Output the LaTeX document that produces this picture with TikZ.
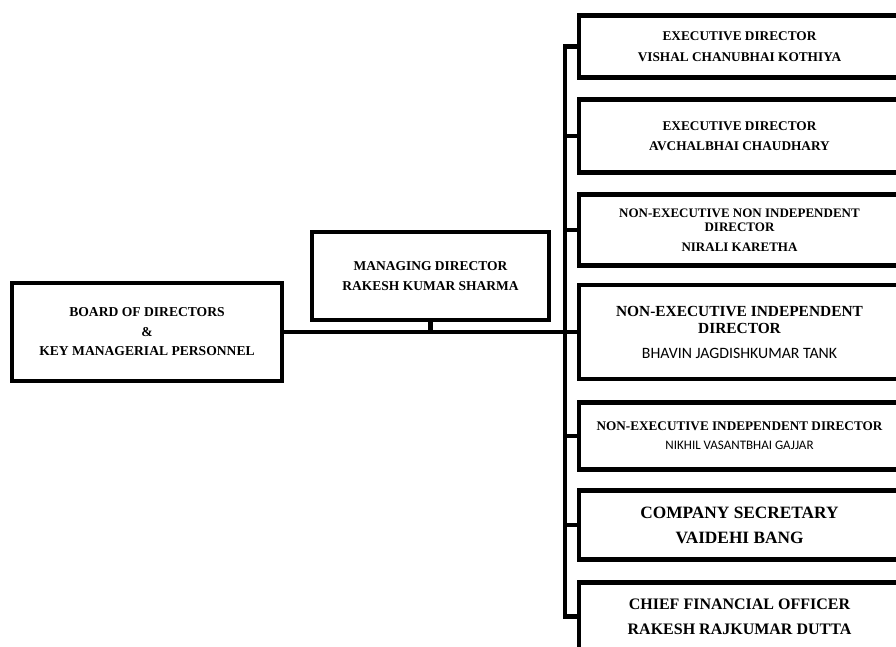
\documentclass[tikz,border=0pt]{standalone}
\usepackage{fontspec}
\setmainfont{Liberation Serif}
\newfontfamily\namefont{Carlito}

\tikzset{
    orgbox/.style={draw, line width=4.5pt, align=center, inner sep=0pt},
    sidebox/.style={orgbox, minimum width=321pt},
    link/.style={line width=4.5pt}
}

\begin{document}
\begin{tikzpicture}[x=1pt, y=-1pt]
            \useasboundingbox (0,0) rectangle (896,646);
            \clip (0,0) rectangle (896,646);

            % Board and managing director
            \node[orgbox, minimum width=270pt, minimum height=98pt, font=\bfseries\fontsize{13.6}{19.5}\selectfont] (board) at (147,332)
                {BOARD OF DIRECTORS\\\&\\KEY MANAGERIAL PERSONNEL};
            \node[orgbox, minimum width=237pt, minimum height=88pt, font=\bfseries\fontsize{13.5}{19.5}\selectfont] (md) at (430.5,276)
                {MANAGING DIRECTOR\\RAKESH KUMAR SHARMA};

            % Directors and officers on the right
            \node[sidebox, minimum height=62pt, font=\bfseries\fontsize{13.3}{21}\selectfont] (b1) at (739.5,46.5)
                {EXECUTIVE DIRECTOR\\VISHAL CHANUBHAI KOTHIYA};
            \node[sidebox, minimum height=73pt, font=\bfseries\fontsize{13.3}{20}\selectfont] (b2) at (739.5,136)
                {EXECUTIVE DIRECTOR\\AVCHALBHAI CHAUDHARY};
            \node[sidebox, minimum height=71pt, font=\bfseries\fontsize{13}{14}\selectfont] (b3) at (739.5,230)
                {NON-EXECUTIVE NON INDEPENDENT\\DIRECTOR\\[6pt]NIRALI KARETHA};
            \node[sidebox, minimum height=94pt, font=\bfseries\fontsize{15.4}{17}\selectfont] (b4) at (739.5,332)
                {NON-EXECUTIVE INDEPENDENT\\DIRECTOR\\[8pt]{\namefont\mdseries\fontsize{15.8}{17}\selectfont BHAVIN JAGDISHKUMAR TANK}};
            \node[sidebox, minimum height=67pt, font=\bfseries\fontsize{13.2}{19}\selectfont] (b5) at (739.5,436)
                {NON-EXECUTIVE INDEPENDENT DIRECTOR\\{\namefont\mdseries\fontsize{13}{19}\selectfont NIKHIL VASANTBHAI GAJJAR}};
            \node[sidebox, minimum height=69pt, font=\bfseries\fontsize{17.3}{25}\selectfont] (b6) at (739.5,525)
                {COMPANY SECRETARY\\VAIDEHI BANG};
            \node[sidebox, minimum height=68pt, font=\bfseries\fontsize{16}{25}\selectfont] (b7) at (739.5,616.5)
                {CHIEF FINANCIAL OFFICER\\RAKESH RAJKUMAR DUTTA};

            % Connectors
            \draw[link] (board.east) -- (b4.west);
            \draw[link] (md.south) -- (md.south |- board.east);
            \draw[link] (b1.west) -- ++(-12,0) |- (b7.west);
            \foreach \n in {b2,b3,b5,b6}
                \draw[link] (\n.west) -- ++(-12,0);
        \end{tikzpicture}
\end{document}
